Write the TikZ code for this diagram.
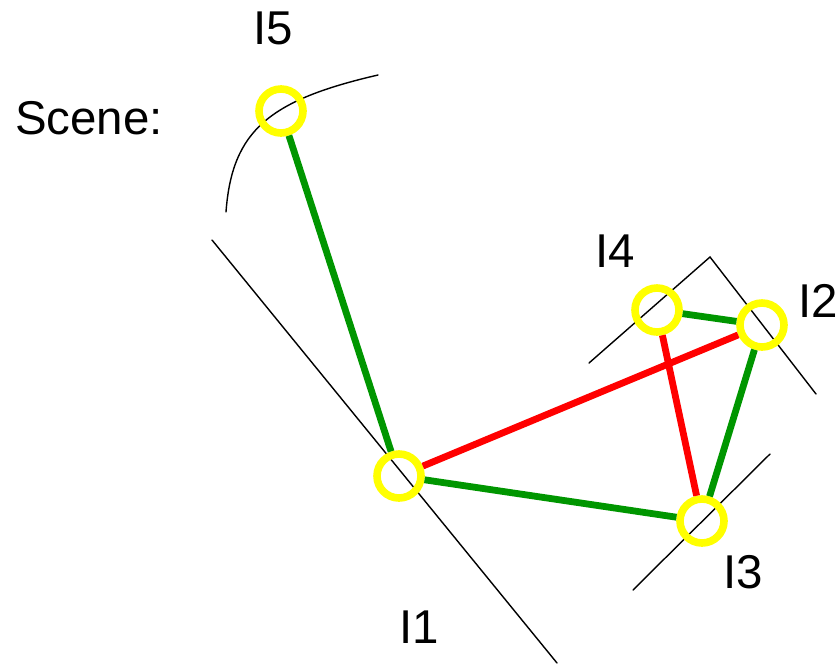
\documentclass[tikz,border=0pt]{standalone}
\usepackage{fontspec}
\setmainfont{Liberation Sans}
\definecolor{ringyellow}{RGB}{255,255,0}
\definecolor{linkgreen}{RGB}{0,150,0}
\definecolor{linkred}{RGB}{255,0,0}
\tikzset{
  ring/.style={
    circle,
    draw=ringyellow,
    line width=6.5pt,
    minimum size=1.32cm,
    inner sep=0pt
  },
  link-green/.style={draw=linkgreen, line width=5.8pt},
  link-red/.style={draw=linkred, line width=5.8pt},
  edge-thin/.style={line width=1.2pt, line cap=round},
  label/.style={
    inner sep=0pt,
    anchor=base,
    font=\fontsize{40.5}{48}\selectfont
  }
}
\begin{document}
\begin{tikzpicture}[x=0.03cm, y=-0.03cm]
  \useasboundingbox (0,0) rectangle (838,668);
  % scene outlines
  \draw[edge-thin] (226,212) .. controls (232,130) and (270,100) .. (378,75);
  \draw[edge-thin] (212,240) -- (557,663);
  \draw[edge-thin] (589,363) -- (710,257) -- (816,394);
  \draw[edge-thin] (633,590) -- (770,454);
  % image points
  \node[ring] (i5) at (281,111) {};
  \node[ring] (i1) at (399,476) {};
  \node[ring] (i4) at (657,310) {};
  \node[ring] (i2) at (762,325) {};
  \node[ring] (i3) at (702,521) {};
  \draw[link-green] (i5) -- (i1);
  \draw[link-green] (i1) -- (i3);
  \draw[link-green] (i4) -- (i2);
  \draw[link-green] (i2) -- (i3);
  \draw[link-red] (i1) -- (i2);
  \draw[link-red] (i4) -- (i3);
  % labels
  \node[label, anchor=base west] (scene) at (15,134) {Scene:};
  \node[label] (l5) at (273,44) {I5};
  \node[label] (l4) at (615,267) {I4};
  \node[label] (l2) at (818,317) {I2};
  \node[label] (l3) at (743,588) {I3};
  \node[label] (l1) at (419,643) {I1};
\end{tikzpicture}
\end{document}
